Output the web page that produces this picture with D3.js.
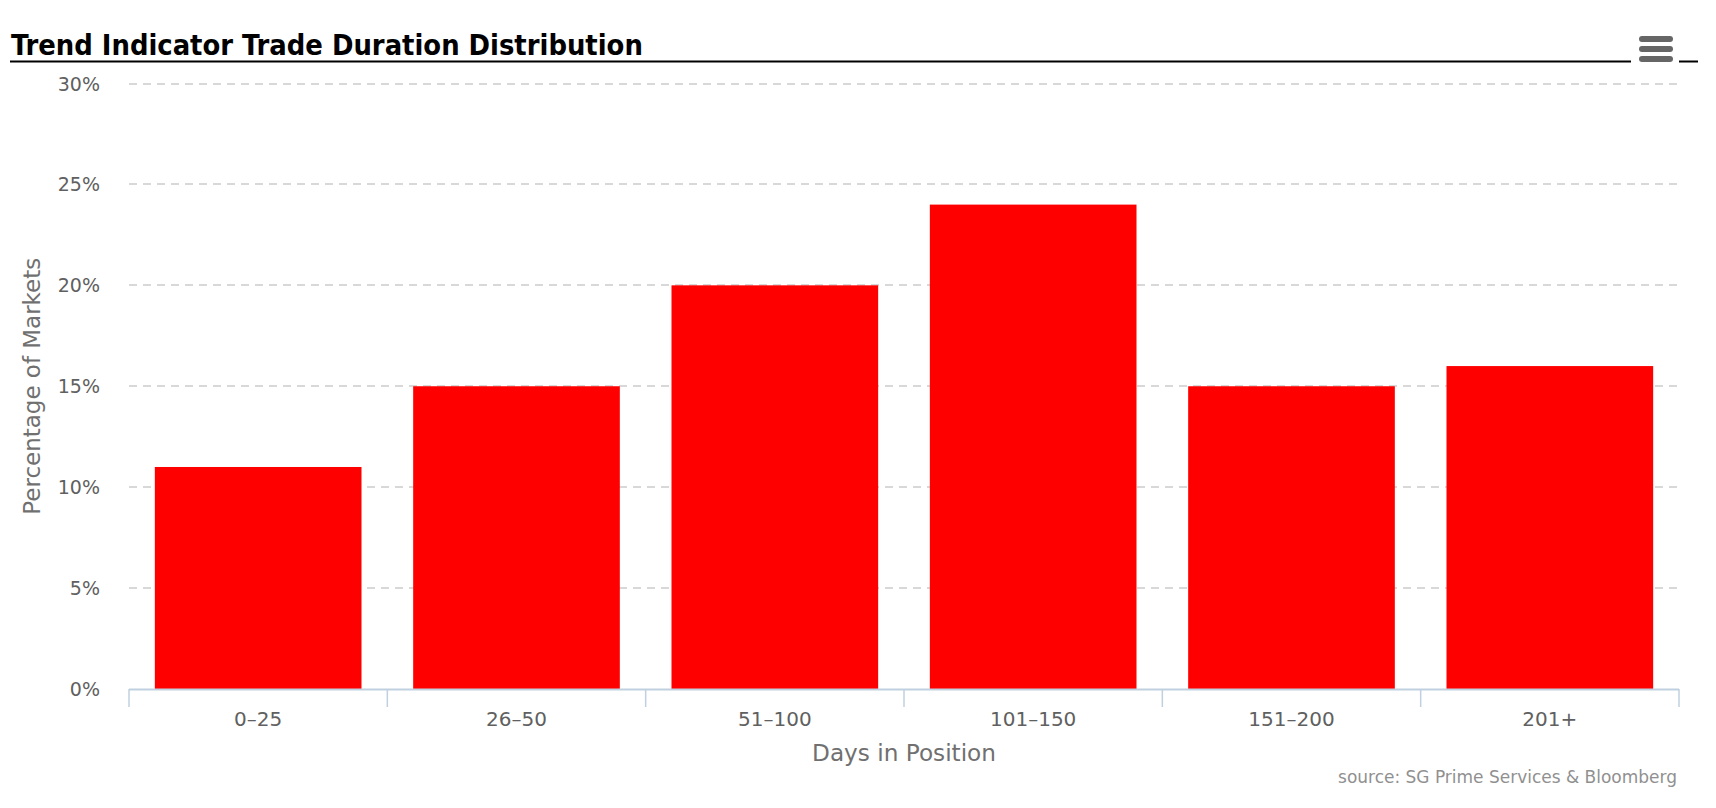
<!DOCTYPE html>
<html>
<head>
<meta charset="utf-8">
<script src="https://cdn.jsdelivr.net/npm/d3@7"></script>
<style>
  html, body { margin: 0; padding: 0; background: #fff; }
  svg { display: block; }
  text { font-family: "DejaVu Sans", "Lucida Grande", sans-serif; }
  text.title { font-family: "DejaVu Sans Condensed", "DejaVu Sans", sans-serif; font-stretch: condensed; }
</style>
</head>
<body>
<svg id="chart" width="1716" height="808"></svg>
<script>
const categories = ["0–25", "26–50", "51–100", "101–150", "151–200", "201+"];
const values = [11, 15, 20, 24, 15, 16];
const yTicks = [0, 5, 10, 15, 20, 25, 30];
const titleText = "Trend Indicator Trade Duration Distribution";
const xTitle = "Days in Position";
const yTitle = "Percentage of Markets";
const sourceText = "source: SG Prime Services & Bloomberg";

(function () {
const svg = d3.select("#chart");
const plotL = 129, plotR = 1679, plotT = 83.5, plotB = 689;

const x = d3.scaleBand().domain(categories).range([plotL, plotR]).paddingInner(0).paddingOuter(0);
const y = d3.scaleLinear().domain([0, 30]).range([plotB, plotT]);

function fitWidth(sel, target) {
  const w = sel.node().getComputedTextLength();
  const fs = parseFloat(sel.attr("font-size"));
  if (w > 0) sel.attr("font-size", (fs * target / w).toFixed(2));
}

// Title
const t = svg.append("text").attr("class", "title").attr("x", 11).attr("y", 55)
  .attr("font-size", 24).attr("font-weight", "bold").attr("fill", "#000")
  .text(titleText);
fitWidth(t, 632);

// Title underline
svg.append("line").attr("x1", 10).attr("x2", 1631).attr("y1", 61.5).attr("y2", 61.5)
  .attr("stroke", "#000").attr("stroke-width", 2);
svg.append("line").attr("x1", 1679).attr("x2", 1698).attr("y1", 61.5).attr("y2", 61.5)
  .attr("stroke", "#000").attr("stroke-width", 2);

// Hamburger menu
[36, 46, 56].forEach(yy => {
  svg.append("rect").attr("x", 1639).attr("y", yy).attr("width", 34).attr("height", 6)
    .attr("rx", 3).attr("fill", "#666");
});

// Gridlines
svg.append("g").selectAll("line").data(yTicks.filter(d => d > 0)).join("line")
  .attr("x1", plotL).attr("x2", plotR)
  .attr("y1", d => Math.round(y(d))).attr("y2", d => Math.round(y(d)))
  .attr("stroke", "#d8d8d8").attr("stroke-width", 2).attr("stroke-dasharray", "8,6");

// Y tick labels
svg.append("g").selectAll("text").data(yTicks).join("text")
  .attr("x", 100).attr("y", d => y(d) + 7)
  .attr("text-anchor", "end").attr("font-size", 19).attr("fill", "#606060")
  .text(d => d + "%");

// Bars
svg.append("g").selectAll("rect").data(values).join("rect")
  .attr("x", (d, i) => x(categories[i]) + x.bandwidth() * 0.1)
  .attr("width", x.bandwidth() * 0.8)
  .attr("y", d => y(d))
  .attr("height", d => y(0) - y(d))
  .attr("fill", "#ff0000");

// X axis line and ticks
svg.append("line").attr("x1", plotL).attr("x2", plotR).attr("y1", 689.5).attr("y2", 689.5)
  .attr("stroke", "#c0d0e0").attr("stroke-width", 2);
const tickPos = categories.map(c => x(c)).concat([plotR]);
svg.append("g").selectAll("line").data(tickPos).join("line")
  .attr("x1", d => d).attr("x2", d => d).attr("y1", 689).attr("y2", 707)
  .attr("stroke", "#c0d0e0").attr("stroke-width", 1.5);

// X tick labels
svg.append("g").selectAll("text").data(categories).join("text")
  .attr("x", d => x(d) + x.bandwidth() / 2).attr("y", 726)
  .attr("text-anchor", "middle").attr("font-size", 20).attr("fill", "#606060")
  .text(d => d);

// Axis titles
const xt = svg.append("text").attr("x", (plotL + plotR) / 2).attr("y", 761)
  .attr("text-anchor", "middle").attr("font-size", 20).attr("fill", "#707070")
  .text(xTitle);
fitWidth(xt, 184);

const yt = svg.append("text")
  .attr("transform", `translate(40, ${(plotT + plotB) / 2}) rotate(-90)`)
  .attr("text-anchor", "middle").attr("font-size", 20).attr("fill", "#707070")
  .text(yTitle);
fitWidth(yt, 257);

// Source
const st = svg.append("text").attr("x", 1677).attr("y", 783)
  .attr("text-anchor", "end").attr("font-size", 15).attr("fill", "#909090")
  .text(sourceText);
fitWidth(st, 339);
})();
</script>
</body>
</html>
